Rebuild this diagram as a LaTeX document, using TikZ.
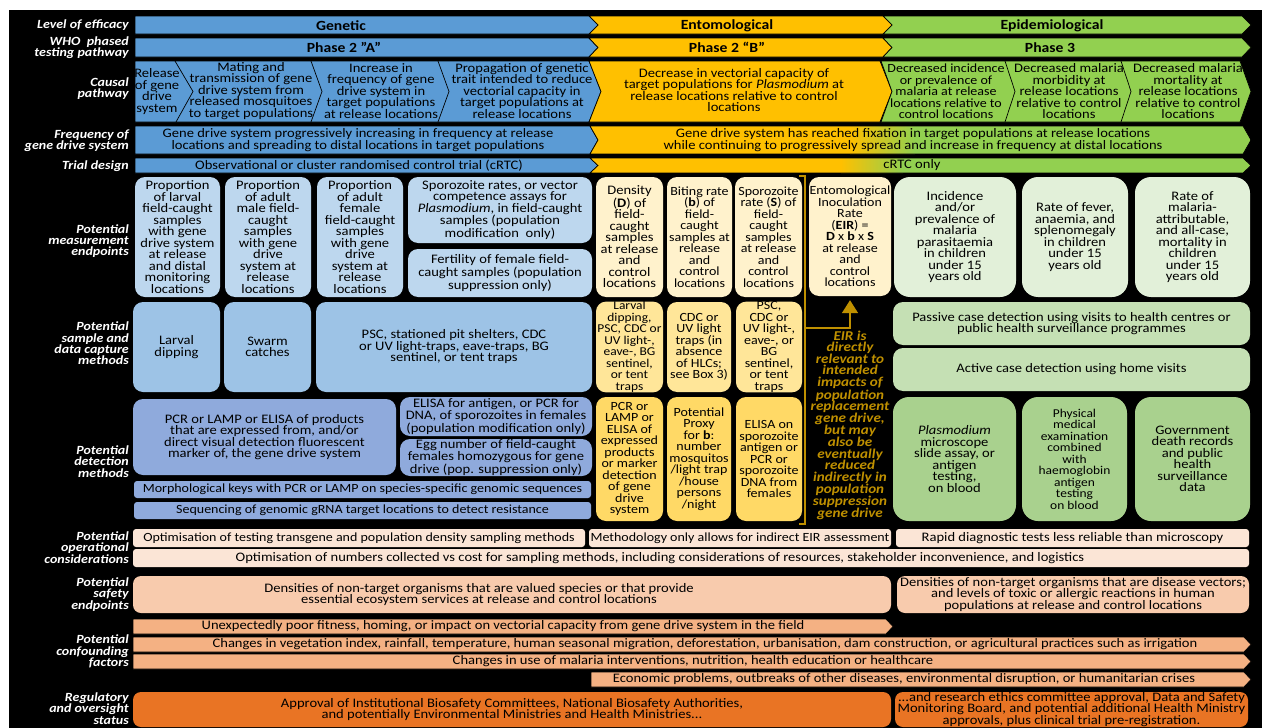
\documentclass[tikz,border=0pt]{standalone}
\usepackage{fontspec}
\setmainfont{Carlito}[FakeStretch=1.12]
\usetikzlibrary{arrows.meta}
\definecolor{topBlue}{HTML}{5B9BD5}
\definecolor{topYel}{HTML}{FFC000}
\definecolor{topGrn}{HTML}{92D050}
\definecolor{mBlue}{HTML}{BDD7EE}
\definecolor{sBlue}{HTML}{9DC3E6}
\definecolor{dBlue}{HTML}{8FAADC}
\definecolor{mYel}{HTML}{FFF2CC}
\definecolor{sYel}{HTML}{FFE699}
\definecolor{dYel}{HTML}{FFD966}
\definecolor{mGrn}{HTML}{E2F0D9}
\definecolor{sGrn}{HTML}{C5E0B4}
\definecolor{dGrn}{HTML}{A9D18E}
\definecolor{cOps}{HTML}{FBE5D6}
\definecolor{cSafe}{HTML}{F8CBAD}
\definecolor{cConf}{HTML}{F4B183}
\definecolor{cReg}{HTML}{E97424}
\definecolor{cGold}{HTML}{BF9000}
\newcommand\btxt{\fontsize{13}{11.5}\selectfont}
\newcommand\stxt{\fontsize{12}{11.5}\selectfont}
\newcommand\mtxt{\fontsize{12.5}{11.5}\selectfont}
\newcommand\ltxt{\fontsize{12.5}{11.3}\selectfont\bfseries\itshape}
\newcommand\bnode[7]{\node[#2, minimum width={(#5-(#3))*1pt}, minimum height={(#6-(#4))*1pt}] (#1) at ({(#3+#5)/2},{(#4+#6)/2}) {#7};}
\newcommand\chevA[6]{\filldraw[chl, fill=#6] (#1,#3) -- ({#2-#5},#3) -- (#2,{(#3+#4)/2}) -- ({#2-#5},#4) -- (#1,#4) -- cycle;}
\newcommand\chevB[6]{\filldraw[chl, fill=#6] (#1,#3) -- ({#2-#5},#3) -- (#2,{(#3+#4)/2}) -- ({#2-#5},#4) -- (#1,#4) -- ({#1+#5},{(#3+#4)/2}) -- cycle;}
\newcommand\gradchev[6]{%
 \begin{scope}
 \clip (#1,#3) -- ({#2-8},#3) -- (#2,{(#3+#4)/2}) -- ({#2-8},#4) -- (#1,#4) -- ({#1+8},{(#3+#4)/2}) -- cycle;
 \fill[topYel] (#1,#3) rectangle ({#5+1},#4);
 \shade[left color=topYel, right color=topGrn] (#5,#3) rectangle (#6,#4);
 \fill[topGrn] ({#6-1},#3) rectangle (#2,#4);
 \end{scope}
 \draw[chl] (#1,#3) -- ({#2-8},#3) -- (#2,{(#3+#4)/2}) -- ({#2-8},#4) -- (#1,#4) -- ({#1+8},{(#3+#4)/2}) -- cycle;}
\tikzset{
 chl/.style={draw=black, line width=0.7pt},
 rb/.style={rounded corners=10pt, inner sep=0pt, align=center, font=\btxt, text=black},
 rg/.style={rb, rounded corners=16pt},
 sqbox/.style={rounded corners=3pt, inner sep=0pt, align=center, font=\btxt, text=black},
 lab/.style={anchor=east, align=right, font=\ltxt, text=white, inner sep=0pt},
 toptxt/.style={font=\fontsize{14}{13}\selectfont\bfseries, inner sep=0pt},
 tx/.style={font=\btxt, align=center, inner sep=0pt},
 goldln/.style={draw=cGold, line width=1.6pt},
 eirtxt/.style={font=\fontsize{13.5}{11.6}\selectfont\bfseries\itshape, text=cGold, align=center, inner sep=0pt}
}
\begin{document}
\begin{tikzpicture}[x=1pt,y=-1pt]
\useasboundingbox (0,0) rectangle (1262,728);
\fill[white] (0,0) rectangle (1262,728);
\fill[black] (9,10) rectangle (1262,728);

% ---------- left labels
\node[lab] (lab1) at (129,25.5) {Level of efficacy};
\node[lab] (lab2) at (129,47.5) {WHO~ phased\\testing pathway};
\node[lab] (lab3) at (129,88.5) {Causal\\pathway};
\node[lab] (lab4) at (129,141) {Frequency of\\gene drive system};
\node[lab] (lab5) at (129,166) {Trial design};
\node[lab] (lab6) at (129,241) {Potential\\measurement\\endpoints};
\node[lab] (lab7) at (129,343.5) {Potential\\sample and\\data capture\\methods};
\node[lab] (lab8) at (129,461.5) {Potential\\detection\\methods};
\node[lab] (lab9) at (129,547.5) {Potential\\operational\\considerations};
\node[lab] (lab10) at (129,594.5) {Potential\\safety\\endpoints};
\node[lab] (lab11) at (129,651.5) {Potential\\confounding\\factors};
\node[lab] (lab12) at (129,708.5) {Regulatory\\and oversight\\status};

% ---------- row 1
\chevA{135}{598}{16}{34}{9}{topBlue}
\chevB{589}{892}{16}{34}{9}{topYel}
\chevB{883}{1251}{16}{34}{9}{topGrn}
\node[toptxt] (r1a) at (341,25.5) {Genetic};
\node[toptxt] (r1b) at (727,25.5) {Entomological};
\node[toptxt] (r1c) at (1052,25.5) {Epidemiological};
% ---------- row 2
\chevA{135}{598}{38}{57}{9}{topBlue}
\chevB{589}{892}{38}{57}{9}{topYel}
\chevB{883}{1251}{38}{57}{9}{topGrn}
\node[toptxt] (r2a) at (344,47.5) {Phase 2 ''A''};
\node[toptxt] (r2b) at (727,47.5) {Phase 2 ``B''};
\node[toptxt] (r2c) at (1050,47.5) {Phase 3};
% ---------- row 3 causal
\chevA{135}{601}{61}{122}{12}{topBlue}
\chevB{589}{892}{61}{122}{12}{topYel}
\chevB{881}{1251}{61}{122}{11}{topGrn}
\draw[chl] (175,61) -- (193,91.5) -- (176,122);
\draw[chl] (311,61) -- (322,91.5) -- (311,122);
\draw[chl] (438,61) -- (449,91.5) -- (438,122);
\draw[chl] (1005,61) -- (1015,91.5) -- (1005,122);
\draw[chl] (1121,61) -- (1131,91.5) -- (1121,122);
\node[tx] (c1) at (157,91.5) {Release\\of gene\\drive\\system};
\node[tx] (c2) at (251,91) {Mating and\\transmission of gene\\drive system from\\released mosquitoes\\to target populations};
\node[tx] (c3) at (381,91) {Increase in\\frequency of gene\\drive system in\\target populations\\at release locations};
\node[tx] (c4) at (522,91) {Propagation of genetic\\trait intended to reduce\\vectorial capacity in\\target populations at\\release locations};
\node[tx] (c5) at (734,90) {Decrease in vectorial capacity of\\target populations for \textit{Plasmodium} at\\release locations relative to control\\locations};
\node[tx,font=\mtxt] (c6) at (946,91.5) {Decreased incidence\\or prevalence of\\malaria at release\\locations relative to\\control locations};
\node[tx] (c7) at (1069,91.5) {Decreased malaria\\morbidity at\\release locations\\relative to control\\locations};
\node[tx] (c8) at (1188,91.5) {Decreased malaria\\mortality at\\release locations\\relative to control\\locations};
% ---------- row 4 frequency
\chevA{135}{598}{126}{154}{8}{topBlue}
\gradchev{590}{1251}{126}{154}{850}{915}
\node[tx] (f1) at (358,140) {Gene drive system progressively increasing in frequency at release\\locations and spreading to distal locations in target populations};
\node[tx] (f2) at (913,140) {Gene drive system has reached fixation in target populations at release locations\\while continuing to progressively spread and increase in frequency at distal locations};
% ---------- row 5 trial
\chevA{135}{598}{158}{173}{8}{topBlue}
\gradchev{590}{1251}{158}{173}{841}{903}
\node[tx] (t1) at (359,165.5) {Observational or cluster randomised control trial (cRTC)};
\node[tx] (t2) at (912,165.5) {cRTC only};

% ---------- measurement endpoints
\bnode{m1}{rb,fill=mBlue}{135}{177}{220}{297}{Proportion\\of larval\\field-caught\\samples\\with gene\\drive system\\at release\\and distal\\monitoring\\locations}
\bnode{m2}{rb,fill=mBlue}{225}{177}{311}{297}{Proportion\\of adult\\male field-\\caught\\samples\\with gene\\drive\\system at\\release\\locations}
\bnode{m3}{rb,fill=mBlue}{317}{177}{403}{297}{Proportion\\of adult\\female\\field-caught\\samples\\with gene\\drive\\system at\\release\\locations}
\bnode{m4}{rb,fill=mBlue}{408}{177}{592}{243}{Sporozoite rates, or vector\\competence assays for\\\textit{Plasmodium}, in field-caught\\samples (population\\modification~ only)}
\bnode{m5}{rb,fill=mBlue}{408}{249}{592}{297}{Fertility of female field-\\caught samples (population\\suppression only)}
\bnode{m6}{rb,fill=mYel}{596}{177}{663}{297}{Density\\(\textbf{D}) of\\field-\\caught\\samples\\at release\\and\\control\\locations}
\bnode{m7}{rb,fill=mYel,font=\mtxt}{667}{177}{732}{297}{Biting rate\\(\textbf{b}) of\\field-\\caught\\samples at\\release\\and\\control\\locations}
\bnode{m8}{rb,fill=mYel,font=\mtxt}{735}{177}{802}{297}{Sporozoite\\rate (\textbf{S}) of\\field-\\caught\\samples\\at release\\and\\control\\locations}
\bnode{eir}{rb,fill=mYel,font=\mtxt}{809}{177}{891}{296}{Entomological\\Inoculation\\Rate\\(\textbf{EIR}) =\\\textbf{D} x \textbf{b} x \textbf{S}\\at release\\and\\control\\locations}
\bnode{m9}{rg,fill=mGrn}{894}{177}{1016}{297}{Incidence\\and/or\\prevalence of\\malaria\\parasitaemia\\in children\\under 15\\years old}
\bnode{m10}{rg,fill=mGrn}{1022}{177}{1128}{297}{Rate of fever,\\anaemia, and\\splenomegaly\\in children\\under 15\\years old}
\bnode{m11}{rg,fill=mGrn}{1135}{177}{1250}{297}{Rate of\\malaria-\\attributable,\\and all-case,\\mortality in\\children\\under 15\\years old}

% ---------- sample methods
\bnode{s1}{rb,fill=sBlue}{133}{302}{220}{392}{Larval\\dipping}
\bnode{s2}{rb,fill=sBlue}{224}{302}{311}{392}{Swarm\\catches}
\bnode{s3}{rb,fill=sBlue}{316}{302}{592}{392}{PSC, stationed pit shelters, CDC\\or UV light-traps, eave-traps, BG\\sentinel, or tent traps}
\bnode{s4}{rb,fill=sYel,font=\stxt}{596}{302}{663}{392}{Larval\\dipping,\\PSC, CDC or\\UV light-,\\eave-, BG\\sentinel,\\or tent\\traps}
\bnode{s5}{rb,fill=sYel,font=\mtxt}{667}{302}{731}{392}{CDC or\\UV light\\traps (in\\absence\\of HLCs;\\see Box 3)}
\bnode{s6}{rb,fill=sYel,font=\mtxt}{736}{302}{802}{392}{PSC,\\CDC or\\UV light-,\\eave-, or\\BG\\sentinel,\\or tent\\traps}
\bnode{s7}{rb,fill=sGrn}{893}{302}{1250}{345}{Passive case detection using visits to health centres or\\public health surveillance programmes}
\bnode{s8}{rb,fill=sGrn}{893}{348}{1250}{391}{Active case detection using home visits}

% ---------- detection methods
\bnode{d1}{rb,fill=dBlue}{133}{399}{396}{475}{PCR or LAMP or ELISA of products\\that are expressed from, and/or\\direct visual detection fluorescent\\marker of, the gene drive system}
\bnode{d2}{rb,fill=dBlue}{400}{397}{592}{436}{ELISA for antigen, or PCR for\\DNA, of sporozoites in females\\(population modification only)}
\bnode{d3}{rb,fill=dBlue}{400}{439}{592}{476}{Egg number of field-caught\\females homozygous for gene\\drive (pop. suppression only)}
\bnode{d4}{sqbox,fill=dBlue,font=\mtxt}{134}{481}{591}{498}{Morphological keys with PCR or LAMP on species-specific genomic sequences}
\bnode{d5}{sqbox,fill=dBlue,font=\mtxt}{134}{502}{591}{519}{Sequencing of genomic gRNA target locations to detect resistance}
\bnode{d6}{rb,fill=dYel,font=\mtxt}{596}{397}{663}{521}{PCR or\\LAMP or\\ELISA of\\expressed\\products\\or marker\\detection\\of gene\\drive\\system}
\bnode{d7}{rb,fill=dYel,font=\mtxt}{667}{397}{731}{521}{Potential\\Proxy\\for \textbf{b}:\\number\\mosquitos\\/light trap\\/house\\persons\\/night}
\bnode{d8}{rb,fill=dYel,font=\mtxt}{736}{397}{802}{521}{ELISA on\\sporozoite\\antigen or\\PCR or\\sporozoite\\DNA from\\females}
\bnode{d9}{rg,fill=dGrn}{893}{397}{1016}{521}{\textit{Plasmodium}\\microscope\\slide assay, or\\antigen\\testing,\\on blood}
\bnode{d10}{rg,fill=dGrn,font=\stxt}{1022}{397}{1127}{521}{Physical\\medical\\examination\\combined\\with\\haemoglobin\\antigen\\testing\\on blood}
\bnode{d11}{rg,fill=dGrn}{1135}{397}{1250}{521}{Government\\death records\\and public\\health\\surveillance\\data}

% ---------- EIR bracket and note
\draw[goldln] (799,176) -- (805,176) -- (805,524) -- (799,524);
\coordinate (bj) at (805,328);
\draw[goldln, -{Triangle[width=16pt,length=13pt]}] (bj) -| ([yshift=-4pt]eir.south);
\node[eirtxt] (eirnote) at (850,425) {EIR is\\directly\\relevant to\\intended\\impacts of\\population\\replacement\\gene drive,\\but may\\also be\\eventually\\reduced\\indirectly in\\population\\suppression\\gene drive};

% ---------- operational
\bnode{o1}{sqbox,fill=cOps,font=\mtxt}{133}{529}{585}{547}{Optimisation of testing transgene and population density sampling methods}
\bnode{o2}{sqbox,fill=cOps,font=\mtxt}{589}{529}{891}{547}{Methodology only allows for indirect EIR assessment}
\bnode{o3}{sqbox,fill=cOps}{896}{529}{1249}{547}{Rapid diagnostic tests less reliable than microscopy}
\bnode{o4}{sqbox,fill=cOps}{133}{549}{1249}{567}{}
\node[tx] (o4t) at (660,558) {Optimisation of numbers collected vs cost for sampling methods, including considerations of resources, stakeholder inconvenience, and logistics};

% ---------- safety
\bnode{sf1}{rb,rounded corners=8pt,fill=cSafe}{133}{576}{891}{613}{}
\node[tx] (sf1t) at (479,594.5) {Densities of non-target organisms that are valued species or that provide\\essential ecosystem services at release and control locations};
\bnode{sf2}{rb,rounded corners=8pt,fill=cSafe}{897}{576}{1249}{613}{Densities of non-target organisms that are disease vectors;\\and levels of toxic or allergic reactions in human\\populations at release and control locations}

% ---------- confounding
\chevA{133}{893}{619}{634}{7}{cConf}
\chevA{133}{1251}{637}{652}{7}{cConf}
\chevA{133}{1251}{654}{669}{7}{cConf}
\chevA{591}{1251}{672}{687}{7}{cConf}
\node[tx] (cf1) at (503,626.5) {Unexpectedly poor fitness, homing, or impact on vectorial capacity from gene drive system in the field};
\node[tx] (cf2) at (705,644.5) {Changes in vegetation index, rainfall, temperature, human seasonal migration, deforestation, urbanisation, dam construction, or agricultural practices such as irrigation};
\node[tx] (cf3) at (693,661.5) {Changes in use of malaria interventions, nutrition, health education or healthcare};
\node[tx] (cf4) at (904,679.5) {Economic problems, outbreaks of other diseases, environmental disruption, or humanitarian crises};

% ---------- regulatory
\bnode{r1}{rb,rounded corners=8pt,fill=cReg}{133}{692}{891}{727}{Approval of Institutional Biosafety Committees, National Biosafety Authorities,\\and potentially Environmental Ministries and Health Ministries...}
\bnode{r2}{rb,rounded corners=8pt,fill=cReg}{895}{692}{1248}{727}{...and research ethics committee approval, Data and Safety\\Monitoring Board, and potential additional Health Ministry\\approvals, plus clinical trial pre-registration.}
\end{tikzpicture}
\end{document}
